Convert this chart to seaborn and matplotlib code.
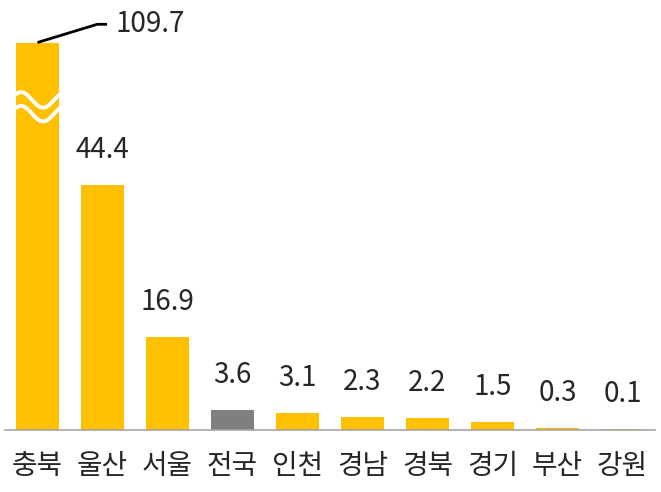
import numpy as np
import matplotlib
matplotlib.use("Agg")
import matplotlib.pyplot as plt
import seaborn as sns

categories = ["충북", "울산", "서울", "전국", "인천", "경남", "경북", "경기", "부산", "강원"]
values = [109.7, 44.4, 16.9, 3.6, 3.1, 2.3, 2.2, 1.5, 0.3, 0.1]
value_labels = ["109.7", "44.4", "16.9", "3.6", "3.1", "2.3", "2.2", "1.5", "0.3", "0.1"]
highlight = "전국"
bar_cap = 70.2  # broken-axis display height for the first bar

YELLOW = "#FFC000"
GRAY = "#7F7F7F"
TXT = "#262626"

sns.set_theme(style="white")
plt.rcParams["font.family"] = ["Noto Sans CJK KR", "DejaVu Sans"]

display = [min(v, bar_cap) for v in values]
colors = [GRAY if c == highlight else YELLOW for c in categories]

fig = plt.figure(figsize=(6.61, 4.92), dpi=100)
ax = fig.add_axes([5 / 661, 62 / 492, 650 / 661, 430 / 492])

sns.barplot(x=categories, y=display, hue=categories, palette=colors,
            legend=False, width=0.66, ax=ax, saturation=1, edgecolor="none")

ax.set_xlim(-0.5, len(categories) - 0.5)
ax.set_ylim(0, 77.9)

for s in ["top", "right", "left"]:
    ax.spines[s].set_visible(False)
ax.spines["bottom"].set_color("#A6A6A6")
ax.spines["bottom"].set_linewidth(1.2)
ax.set_yticks([])
ax.set_xticks(range(len(categories)))
ax.set_xticklabels(categories, fontsize=20, color=TXT, fontweight="light")
ax.tick_params(axis="x", which="major", length=0, pad=15)
ax.set_xticks(np.arange(-0.5, len(categories), 1), minor=True)
ax.tick_params(axis="x", which="minor", length=7, width=1.2, color="#A6A6A6")
ax.set_xlabel("")
ax.set_ylabel("")

# value labels
for i, (d, lab, v) in enumerate(zip(display, value_labels, values)):
    if v > bar_cap:
        continue
    ax.annotate(lab, (i, d), xytext=(0, 19.5), textcoords="offset points",
                ha="center", va="baseline", fontsize=20, color=TXT,
                fontweight="light")

# first bar: leader line and label
top = display[0]
ax.plot([0.0, 0.92, 1.07], [top, top + 3.3, top + 3.3], color="black", lw=2,
        solid_capstyle="butt", clip_on=False)
ax.text(1.2, top + 3.3, value_labels[0], ha="left", va="center",
        fontsize=20, color=TXT, fontweight="light")

# wavy break on the first bar
xw = np.linspace(-0.37, 0.37, 100)
wave = 1.4 * np.sin(2 * np.pi * (xw + 0.37) / 0.68 + 0.5)
for y0 in (59.8, 57.3):
    ax.plot(xw, y0 + wave, color="white", lw=2.8)

fig.savefig("out.png", dpi=100)
